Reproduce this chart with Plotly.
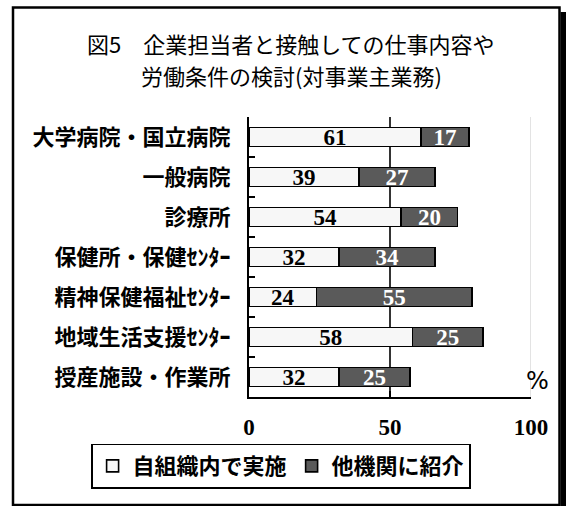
import plotly.graph_objects as go

# Survey categories (top to bottom) and percentage shares
categories = [
    "大学病院・国立病院",
    "一般病院",
    "診療所",
    "保健所・保健ｾﾝﾀｰ",
    "精神保健福祉ｾﾝﾀｰ",
    "地域生活支援ｾﾝﾀｰ",
    "授産施設・作業所",
]
in_house = [61, 39, 54, 32, 24, 58, 32]      # 自組織内で実施
referred = [17, 27, 20, 34, 55, 25, 25]      # 他機関に紹介
series_names = ["自組織内で実施", "他機関に紹介"]
x_ticks = [0, 50, 100]
title_lines = ["図5　企業担当者と接触しての仕事内容や", "労働条件の検討(対事業主業務)"]

W, H = 566, 506
L, R, T, B = 249, 35, 117, 109
PW, PH = W - L - R, H - T - B


def px_x(px):
    return (px - L) / PW


def px_y(py):
    return (H - B - py) / PH


jp = "Noto Sans CJK JP"
serif = "Liberation Serif"

fig = go.Figure()
fig.add_trace(go.Bar(
    y=categories, x=in_house, name=series_names[0], orientation="h",
    marker=dict(color="#f7f7f7", line=dict(color="black", width=1.6)),
    text=[str(v) for v in in_house], textposition="inside",
    insidetextanchor="middle", textangle=0, constraintext="none",
    textfont=dict(family=serif, size=23, color="black", weight="bold"),
    hoverinfo="skip",
))
fig.add_trace(go.Bar(
    y=categories, x=referred, name=series_names[1], orientation="h",
    marker=dict(color="#5a5a5a", line=dict(color="black", width=1.6)),
    text=[str(v) for v in referred], textposition="inside",
    insidetextanchor="middle", textangle=0, constraintext="none",
    textfont=dict(family=serif, size=23, color="white", weight="bold"),
    hoverinfo="skip",
))

shapes = [
    # reference line at 50 behind the bars
    dict(type="line", xref="x", yref="paper", x0=50, x1=50, y0=0, y1=1,
         line=dict(color="black", width=1.6), layer="below"),
    # faint line at 100
    dict(type="line", xref="x", yref="paper", x0=100, x1=100, y0=0, y1=1,
         line=dict(color="#d0d0d0", width=1.2), layer="below"),
    # drop shadow of the chart frame
    dict(type="rect", xref="paper", yref="paper",
         x0=px_x(560.5), x1=px_x(567), y0=px_y(12), y1=px_y(507),
         fillcolor="black", line=dict(width=0), layer="above"),
    # chart frame
    dict(type="rect", xref="paper", yref="paper",
         x0=px_x(13), x1=px_x(559.5), y0=px_y(7.5), y1=px_y(505),
         line=dict(color="black", width=2.5), fillcolor="rgba(0,0,0,0)",
         layer="above"),
]

annotations = [
    dict(text=title_lines[0], xref="paper", yref="paper",
         x=px_x(291), y=px_y(43), xanchor="center", yanchor="middle",
         showarrow=False, font=dict(family=jp, size=22, color="black")),
    dict(text=title_lines[1], xref="paper", yref="paper",
         x=px_x(291), y=px_y(75), xanchor="center", yanchor="middle",
         showarrow=False, font=dict(family=jp, size=22, color="black")),
    dict(text="%", xref="paper", yref="paper", x=px_x(537), y=px_y(381),
         xanchor="center", yanchor="middle", showarrow=False,
         font=dict(family="DejaVu Sans", size=24, color="black")),
]

fig.update_layout(
    width=W, height=H,
    margin=dict(l=L, r=R, t=T, b=B, pad=0, autoexpand=False),
    paper_bgcolor="white", plot_bgcolor="white",
    barmode="stack", bargap=0.52,
    xaxis=dict(
        range=[0, 100], tickvals=x_ticks, ticktext=[str(v) for v in x_ticks],
        showgrid=False, zeroline=False,
        showline=True, linecolor="black", linewidth=2,
        ticks="inside", ticklen=6, tickwidth=1.6, tickcolor="black",
        tickfont=dict(family=serif, size=23, color="black", weight="bold"),
        ticklabelstandoff=8, fixedrange=True,
    ),
    yaxis=dict(
        autorange="reversed", showgrid=False, zeroline=False,
        showline=True, linecolor="black", linewidth=2,
        ticks="inside", tickson="boundaries", ticklen=6, tickwidth=1.6,
        tickcolor="black",
        tickfont=dict(family=jp, size=22, color="black", weight="bold"),
        ticklabelstandoff=12, fixedrange=True,
    ),
    legend=dict(
        orientation="h", xref="paper", yref="paper",
        x=px_x(91), xanchor="left", y=px_y(466), yanchor="middle",
        bordercolor="black", borderwidth=1.6, bgcolor="white",
        font=dict(family=jp, size=22, color="black", weight="bold"),
        itemwidth=30, traceorder="normal",
    ),
    shapes=shapes,
    annotations=annotations,
    showlegend=True,
)

fig.write_html("out.html")
